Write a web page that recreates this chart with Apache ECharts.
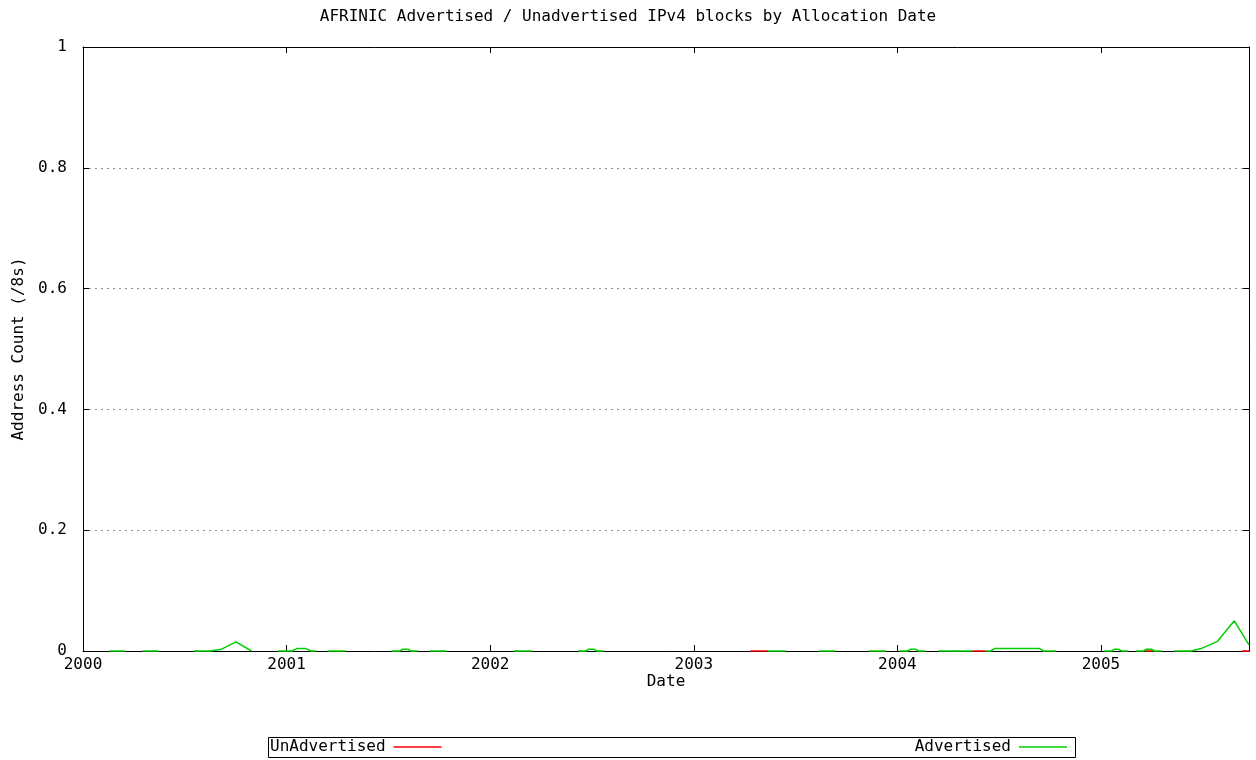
<!DOCTYPE html>
<html>
<head>
<meta charset="utf-8">
<script src="https://cdn.jsdelivr.net/npm/echarts@6/dist/echarts.min.js"></script>
<style>html,body{margin:0;padding:0;background:#fff}#c{width:1256px;height:760px}</style>
</head>
<body>
<div id="c"></div>
<script>
// Dates as decimal years, values in /8s; null breaks the line
const advDates = [
  2000.129, 2000.206, null,
  2000.293, 2000.372, null,
  2000.546, 2000.624, 2000.681, 2000.751, 2000.828, null,
  2000.959, 2001.026, 2001.051, 2001.095, 2001.119, 2001.147, null,
  2001.203, 2001.288, null,
  2001.516, 2001.556, 2001.571, 2001.596, 2001.610, 2001.642, null,
  2001.705, 2001.786, null,
  2002.116, 2002.203, null,
  2002.432, 2002.469, 2002.484, 2002.509, 2002.523, 2002.558, null,
  2003.364, 2003.450, null,
  2003.615, 2003.695, null,
  2003.860, 2003.946, null,
  2004.011, 2004.050, 2004.065, 2004.089, 2004.104, 2004.137, null,
  2004.202, 2004.368, null,
  2004.432, 2004.458, 2004.477, 2004.698, 2004.718, 2004.780, null,
  2005.017, 2005.052, 2005.066, 2005.086, 2005.101, 2005.132, null,
  2005.173, 2005.209, 2005.223, 2005.248, 2005.263, 2005.296, null,
  2005.361, 2005.443, 2005.492, 2005.572, 2005.655, 2005.727
];
const advValues = [
  0, 0, null,
  0, 0, null,
  0, 0, 0.003, 0.015, 0, null,
  0, 0, 0.004, 0.004, 0, 0, null,
  0, 0, null,
  0, 0, 0.003, 0.003, 0, 0, null,
  0, 0, null,
  0, 0, null,
  0, 0, 0.003, 0.003, 0, 0, null,
  0, 0, null,
  0, 0, null,
  0, 0, null,
  0, 0, 0.003, 0.003, 0, 0, null,
  0, 0, null,
  0, 0, 0.004, 0.004, 0, 0, null,
  0, 0, 0.003, 0.003, 0, 0, null,
  0, 0, 0.003, 0.003, 0, 0, null,
  0, 0, 0.004, 0.016, 0.05, 0.01
];
const unadvDates = [
  2003.278, 2003.364, null,
  2004.368, 2004.432, null,
  2005.217, 2005.254, null,
  2005.693, 2005.727
];
const unadvValues = [
  0, 0, null,
  0, 0, null,
  0, 0, null,
  0, 0
];
const xTicks = [2000, 2001, 2002, 2003, 2004, 2005];
const yTicks = [0, 0.2, 0.4, 0.6, 0.8, 1];

function pairs(xs, ys) {
  return xs.map((x, i) => (x === null ? [null, null] : [x, ys[i]]));
}

const FONT = 'DejaVu Sans Mono';
const chart = echarts.init(document.getElementById('c'), null, { renderer: 'canvas' });
const axisCommon = {
  type: 'value',
  axisLine: { show: true, onZero: false, lineStyle: { color: '#000', width: 1 } },
  axisTick: { show: true, inside: true, length: 6, lineStyle: { color: '#000' } },
  splitLine: { show: false },
  nameMoveOverlap: false
};
chart.setOption({
  animation: false,
  backgroundColor: '#fff',
  textStyle: { fontFamily: FONT },
  title: {
    text: 'AFRINIC Advertised / Unadvertised IPv4 blocks by Allocation Date',
    left: 'center', top: 4,
    textStyle: { fontFamily: FONT, fontSize: 16, fontWeight: 'normal', color: '#000' }
  },
  grid: { left: 83, top: 47, right: 7, bottom: 109, containLabel: false },
  xAxis: [
    Object.assign({}, axisCommon, {
      position: 'bottom', min: 2000, max: 2005.727, interval: 1,
      name: 'Date', nameLocation: 'middle', nameGap: 23,
      nameTextStyle: { fontFamily: FONT, fontSize: 16, color: '#000' },
      axisLabel: {
        fontFamily: FONT, fontSize: 16, color: '#000', margin: 6,
        showMaxLabel: false,
        formatter: v => (xTicks.indexOf(Math.round(v)) >= 0 && Math.abs(v - Math.round(v)) < 1e-6) ? String(Math.round(v)) : ''
      }
    }),
    Object.assign({}, axisCommon, {
      position: 'top', min: 2000, max: 2005.727, interval: 1,
      axisLabel: { show: false }
    })
  ],
  yAxis: [
    Object.assign({}, axisCommon, {
      position: 'left', min: 0, max: 1, interval: 0.2,
      name: 'Address Count (/8s)', nameLocation: 'middle', nameGap: 56, nameRotate: 90,
      nameTextStyle: { fontFamily: FONT, fontSize: 16, color: '#000' },
      axisLabel: {
        fontFamily: FONT, fontSize: 16, color: '#000', margin: 16,
        formatter: v => { const t = yTicks.find(y => Math.abs(y - v) < 1e-9); return t === undefined ? '' : String(t); }
      },
      splitLine: { show: true, showMinLine: false, showMaxLine: false,
        lineStyle: { color: '#909090', type: [2, 4], width: 1 } }
    }),
    Object.assign({}, axisCommon, {
      position: 'right', min: 0, max: 1, interval: 0.2,
      axisLabel: { show: false }
    })
  ],
  legend: [
    {
      data: ['UnAdvertised'], left: 270, top: 739, align: 'right',
      icon: 'rect', itemWidth: 48, itemHeight: 1.5, itemGap: 0, padding: 0,
      textStyle: { fontFamily: FONT, fontSize: 16, color: '#000', padding: [0, 3, 0, 0] },
      selectedMode: false
    },
    {
      data: ['Advertised'], right: 189, top: 739, align: 'right',
      icon: 'rect', itemWidth: 48, itemHeight: 1.5, itemGap: 0, padding: 0,
      textStyle: { fontFamily: FONT, fontSize: 16, color: '#000', padding: [0, 3, 0, 0] },
      selectedMode: false
    }
  ],
  graphic: [
    { type: 'rect', shape: { x: 268.5, y: 737.5, width: 807, height: 20 },
      style: { fill: 'none', stroke: '#000', lineWidth: 1 }, z: 100, silent: true }
  ],
  series: [
    {
      name: 'UnAdvertised', type: 'line', data: pairs(unadvDates, unadvValues),
      showSymbol: false, symbol: 'none', connectNulls: false, clip: false,
      lineStyle: { color: '#ff0000', width: 1.5 }, itemStyle: { color: '#ff0000' }, z: 3
    },
    {
      name: 'Advertised', type: 'line', data: pairs(advDates, advValues),
      showSymbol: false, symbol: 'none', connectNulls: false, clip: false,
      lineStyle: { color: '#00d000', width: 1.5 }, itemStyle: { color: '#00d000' }, z: 4
    }
  ]
});
</script>
</body>
</html>
